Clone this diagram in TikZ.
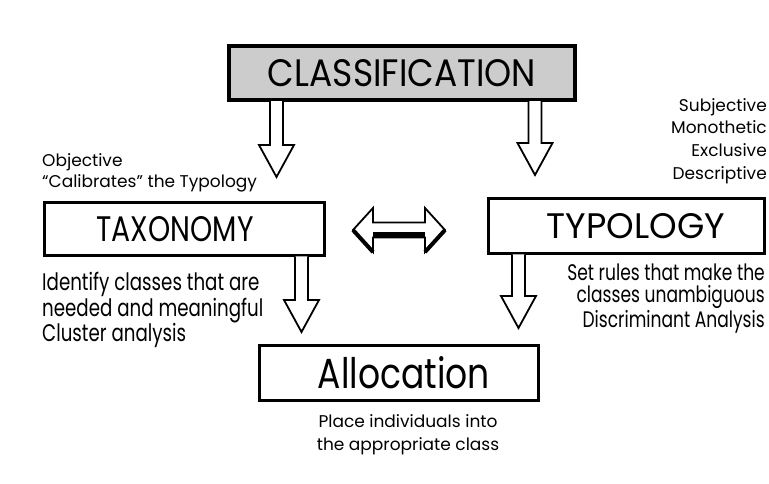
\documentclass[tikz,border=0pt]{standalone}
\usepackage{fontspec}
\usepackage{graphicx}
\setmainfont{Poppins}
\newfontfamily\tallfont[FakeStretch=0.76]{Poppins}
\usetikzlibrary{calc}

\tikzset{
    bigbox/.style={draw, line width=3.5pt, inner sep=0pt},
    note/.style={inner sep=0pt, font=\fontsize{17}{21}\selectfont},
    tallnote/.style={inner sep=0pt, font=\tallfont\fontsize{24}{23}\selectfont},
    hollow/.style={draw, line width=1.8pt, fill=white, line join=miter},
}

% box label squeezed to the measured width and cap height
\newcommand{\boxlabel}[3]{\resizebox{#1pt}{#2pt}{#3}}

% hollow block arrow pointing down, from a box edge (#1) to its tip (#2)
\newcommand{\downblock}[2]{%
    \draw[hollow] let \p1=(#1), \p2=(#2) in
        (\x2-6.5pt,\y1+1pt) -- (\x2-6.5pt,\y2+32pt) -- (\x2-17.5pt,\y2+32pt) -- (\x2,\y2)
        -- (\x2+17.5pt,\y2+32pt) -- (\x2+6.5pt,\y2+32pt) -- (\x2+6.5pt,\y1+1pt);}

\begin{document}
\begin{tikzpicture}[x=1pt, y=-1pt]
    \useasboundingbox (0,0) rectangle (769,483);

    \node[bigbox, line width=4pt, fill=black!20, minimum width=346, minimum height=54] (class) at (402,73)
        {\boxlabel{268}{27}{CLASSIFICATION}};
    \node[bigbox, minimum width=280, minimum height=53] (taxo) at (184.5,229)
        {\hspace*{-19pt}\boxlabel{157}{25}{TAXONOMY}};
    \node[bigbox, minimum width=276, minimum height=55] (typo) at (626.5,226)
        {\boxlabel{178}{25}{TYPOLOGY}\hspace*{-19pt}};
    \node[bigbox, minimum width=279, minimum height=55] (alloc) at (399,373)
        {\boxlabel{172}{32}{Allocation}\hspace*{-10pt}};

    \node[note, anchor=north west, align=left] (objnote) at (42,153)
        {Objective\\“Calibrates” the Typology};
    \node[note, font=\fontsize{17}{22.7}\selectfont, anchor=north east, align=right] (subjnote) at (767,98)
        {Subjective\\Monothetic\\Exclusive\\Descriptive};
    \node[tallnote, anchor=north west, align=left] (idnote) at (42,272)
        {Identify classes that are\\needed and meaningful\\Cluster analysis};
    \node[tallnote, font=\tallfont\fontsize{22.5}{22}\selectfont, anchor=north east, align=right] (rulenote) at (765,264)
        {Set rules that make the\\classes unambiguous\\Discriminant Analysis};
    \node[note, font=\fontsize{17}{23}\selectfont, anchor=north, align=center] (placenote) at (408,414)
        {Place individuals into\\the appropriate class};

    \coordinate (tipA) at (276.5,177);
    \coordinate (tipB) at (535,175);
    \coordinate (tipC) at (301.5,332);
    \coordinate (tipD) at (518.5,328);
    \downblock{class.south -| tipA}{tipA}
    \downblock{class.south -| tipB}{tipB}
    \downblock{taxo.south -| tipC}{tipC}
    \downblock{typo.south -| tipD}{tipD}

    \coordinate (swapL) at (353,230);
    \coordinate (swapR) at (445,230);
    \draw[hollow] let \p1=(swapL), \p2=(swapR) in
        (\p1) -- (\x1+20pt,\y1+22pt) -- (\x1+20pt,\y1+7.5pt) -- (\x2-20pt,\y2+7.5pt)
        -- (\x2-20pt,\y2+22pt) -- (\p2) -- (\x2-20pt,\y2-22pt) -- (\x2-20pt,\y2-7.5pt)
        -- (\x1+20pt,\y1-7.5pt) -- (\x1+20pt,\y1-22pt) -- cycle;
    \fill let \p1=(swapL), \p2=(swapR) in
        (\x1+20pt,\y1-7.5pt) rectangle (\x2-20pt,\y2-1.5pt);
    \draw[line width=4pt] let \p1=(swapL), \p2=(swapR) in
        (\p1) -- (\x1+20pt,\y1-22pt) (\p2) -- (\x2-20pt,\y2-22pt);
\end{tikzpicture}
\end{document}
